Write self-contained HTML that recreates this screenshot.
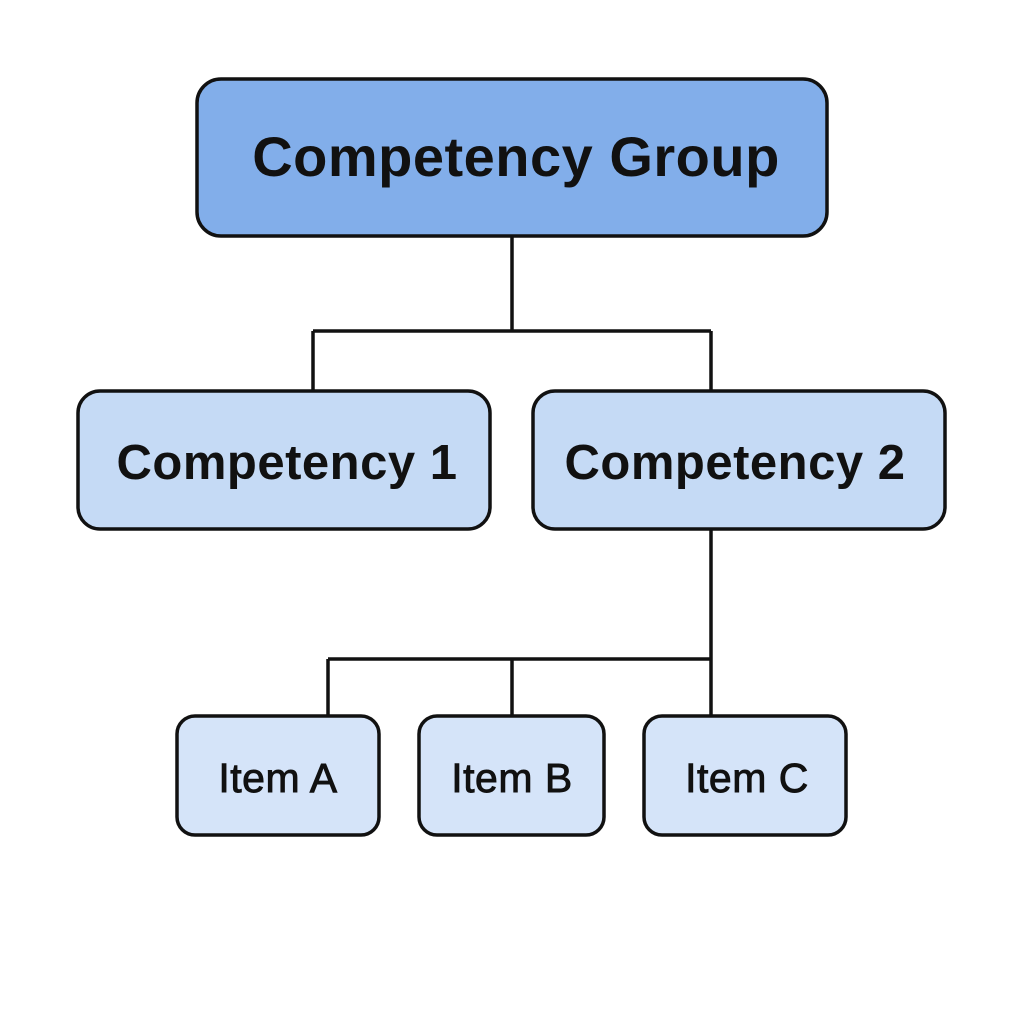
<!DOCTYPE html>
<html><head><meta charset="utf-8"><style>
html,body{margin:0;padding:0;background:#fff;}
</style></head><body>
<svg width="1024" height="1024" viewBox="0 0 1024 1024" xmlns="http://www.w3.org/2000/svg">
<rect width="1024" height="1024" fill="#fff"/>
<g stroke="#111" stroke-width="3.5" fill="none">
<path d="M512 237 V331 M313 331 H711 M313 331 V390 M711 331 V390"/>
<path d="M711 530 V715 M328 659 H711 M328 659 V715 M512 659 V715"/>
</g>
<g stroke="#111" stroke-width="3.5">
<rect x="197" y="79" width="630" height="157" rx="24" fill="#82aeea"/>
<rect x="78" y="391" width="412" height="138" rx="22" fill="#c5daf5"/>
<rect x="533" y="391" width="412" height="138" rx="22" fill="#c5daf5"/>
<rect x="177" y="716" width="202" height="119" rx="18" fill="#d5e4f9"/>
<rect x="419" y="716" width="185" height="119" rx="18" fill="#d5e4f9"/>
<rect x="644" y="716" width="202" height="119" rx="18" fill="#d5e4f9"/>
</g>
<g font-family="Liberation Sans, sans-serif" fill="#111" text-anchor="middle">
<text x="516" y="176" font-size="56" font-weight="bold" letter-spacing="0.5">Competency Group</text>
<text x="287" y="479" font-size="49" font-weight="bold" letter-spacing="0.5">Competency 1</text>
<text x="735" y="479" font-size="49" font-weight="bold" letter-spacing="0.5">Competency 2</text>
<g font-size="41" stroke="#111" stroke-width="0.9" letter-spacing="0.5">
<text x="278" y="792">Item A</text>
<text x="512" y="792">Item B</text>
<text x="747" y="792">Item C</text>
</g>
</g>
</svg>
</body></html>
